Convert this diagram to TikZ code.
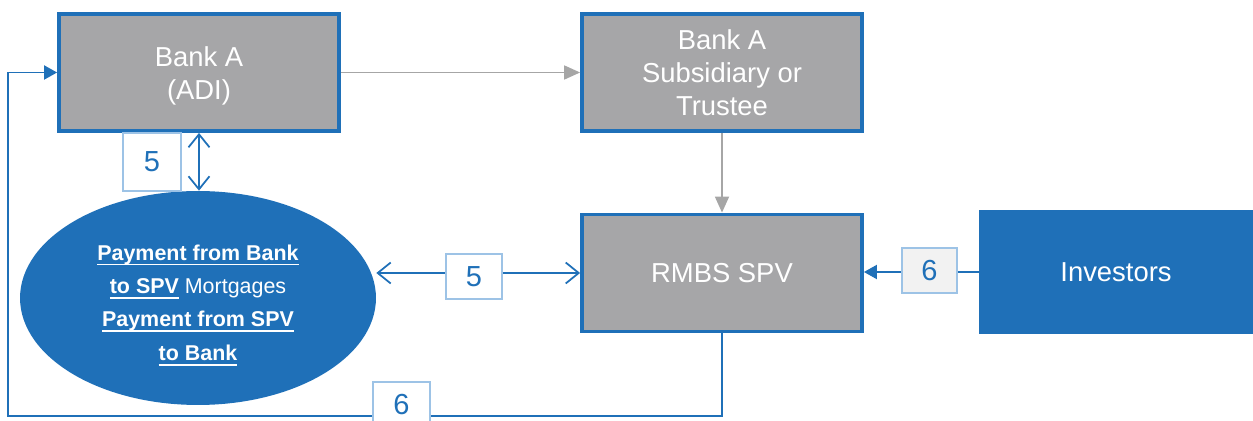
\documentclass[tikz,border=0pt]{standalone}
\usepackage{fontspec}
\setmainfont{Liberation Sans}
\usepackage{tikz}
\usetikzlibrary{arrows.meta,shapes,positioning}
\definecolor{rmblue}{RGB}{31,112,184}
\definecolor{rmgray}{RGB}{166,166,168}
\definecolor{rmlightblue}{RGB}{157,195,230}
\definecolor{rmarrowgray}{RGB}{166,166,166}
\definecolor{rmpale}{RGB}{242,242,242}
\tikzstyle{graybox} = [draw=rmblue, line width=2.2pt, fill=rmgray, text=white, minimum width=5.6cm, minimum height=2.34cm, align=center, font=\fontsize{15.6}{18.8}\selectfont]
\tikzstyle{bluebox} = [fill=rmblue, text=white, minimum width=5.48cm, minimum height=2.48cm, align=center, font=\fontsize{15.6}{18.8}\selectfont]
\tikzstyle{numbox} = [draw=rmlightblue, line width=1pt, fill=white, text=rmblue, inner sep=0pt, font=\fontsize{16.5}{18}\selectfont]
\tikzstyle{grayarrow} = [line width=1pt, color=rmarrowgray, -{Triangle[length=0.32cm,width=0.28cm]}]
\tikzstyle{bluearrow} = [line width=1.1pt, color=rmblue, -{Triangle[length=0.26cm,width=0.28cm]}]
\tikzstyle{flowarrow} = [line width=1pt, color=rmblue, {Straight Barb[length=0.26cm,width=0.42cm]}-{Straight Barb[length=0.26cm,width=0.42cm]}]
\newsavebox\paybox
\newcommand{\payul}[1]{\sbox\paybox{\textbf{#1}}\rlap{\rule[-3pt]{\wd\paybox}{1.1pt}}\usebox\paybox}

\begin{document}
\begin{tikzpicture}[x=0.02cm, y=-0.02cm]
\useasboundingbox (0,0) rectangle (1253,421);
% boxes
\node[graybox] (bankA) at (199,72.5) {\rule{0pt}{15pt}Bank A\\(ADI)};
\node[graybox] (sub) at (722,72.5) {Bank A\\Subsidiary or\\Trustee};
\node[graybox] (spv) at (722,273) {RMBS SPV};
\node[bluebox] (inv) at (1116,272) {Investors};
\node[ellipse, fill=rmblue, text=white, minimum width=7.12cm, minimum height=4.28cm, inner sep=0pt, align=center, font=\fontsize{12.2}{16}\selectfont] (pay) at (198,298)
  {\rule{0pt}{17pt}\payul{Payment from Bank}\\[3pt]\payul{to SPV} Mortgages\\[3pt]\payul{Payment from SPV}\\[3pt]\payul{to Bank}};
\coordinate (lpcorner) at (8,416);
% connectors
\draw[grayarrow] (bankA.east) -- (sub.west);
\draw[grayarrow] (sub.south) -- (spv.north);
\draw[flowarrow] (bankA.south) -- (bankA.south |- pay.north);
\draw[flowarrow] (spv.west -| pay.east) -- (spv.west);
\draw[bluearrow] (inv.west) -- (inv.west -| spv.east);
\draw[bluearrow] (spv.south) |- (lpcorner) |- (bankA.west);
% step labels
\node[numbox, minimum width=1.16cm, minimum height=1.16cm] (lbA) at (152,162) {5};
\node[numbox, minimum width=1.12cm, minimum height=0.9cm] (lbB) at (474,276.5) {5};
\node[numbox, fill=rmpale, minimum width=1.1cm, minimum height=0.9cm] (lbC) at (929.5,270.5) {6};
\node[numbox, minimum width=1.14cm, minimum height=0.92cm] (lbD) at (401.5,405) {6};
\end{tikzpicture}
\end{document}
